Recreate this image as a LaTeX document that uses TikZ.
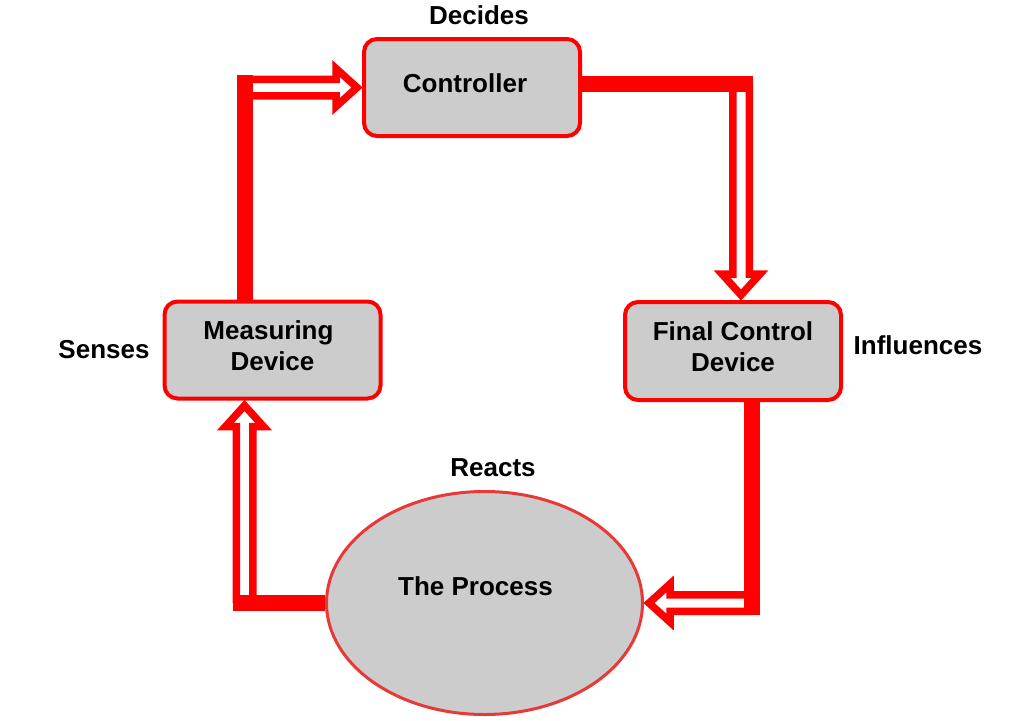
\documentclass[tikz,border=0pt]{standalone}
\usepackage{fontspec}
\setmainfont{Liberation Sans}
\usetikzlibrary{shapes.geometric,calc}
\definecolor{boxgray}{RGB}{204,204,204}
\definecolor{procred}{RGB}{232,56,56}
\definecolor{arrred}{RGB}{255,0,0}

% hollow (outlined) arrow from #1 to #2
\newcommand\harrow[2]{%
  \path (#1) coordinate (ha-s) (#2) coordinate (ha-e);
  \pgfpointdiff{\pgfpointanchor{ha-s}{center}}{\pgfpointanchor{ha-e}{center}}%
  \pgfgetlastxy\hax\hay
  \pgfmathsetmacro\haang{atan2(\hay,\hax)}%
  \pgfmathsetmacro\halen{veclen(\hax,\hay)}%
  \pgfmathsetmacro\hab{\halen-26}%
  \pgfmathsetmacro\hat{\halen-5}%
  \begin{scope}[shift={(ha-s)}, rotate=\haang, x=1pt, y=1pt]
    \fill[white] (0,8.25) -- (\hab,8.25) -- (\hab,19) -- (\hat,0) -- (\hab,-19) -- (\hab,-8.25) -- (0,-8.25) -- cycle;
    \draw[arrred, line width=7.5pt, line join=miter, miter limit=12]
      (0,8.25) -- (\hab,8.25) -- (\hab,19) -- (\hat,0) -- (\hab,-19) -- (\hab,-8.25) -- (0,-8.25);
  \end{scope}}

\begin{document}
\begin{tikzpicture}[x=1pt,y=-1pt,
  box/.style={draw=arrred, line width=4pt, fill=boxgray, rounded corners=13pt,
    minimum width=216pt, minimum height=97pt, inner sep=0pt, align=center,
    text depth=8pt, font=\bfseries\fontsize{26}{31}\selectfont},
  lbl/.style={font=\bfseries\fontsize{26}{31}\selectfont, inner sep=0pt},
  bar/.style={draw=arrred, line width=16pt}]
\useasboundingbox[fill=white] (0,0) rectangle (1024,720);

% nodes
\node[box] (ctrl) at (472,87.5) {Controller\hspace*{14pt}};
\node[box] (meas) at (272.5,350) {Measuring\hspace*{8pt}\\Device};
\node[box, minimum height=98pt] (fcd) at (733,351) {Final Control\\Device};
\node[ellipse, draw=procred, line width=3pt, fill=boxgray, minimum width=316pt,
      minimum height=223pt, inner sep=0pt] (proc) at (484.5,603) {};
\node[lbl] (proct) at ([shift={(-9,-17)}]proc.center) {The Process};

% labels
\node[lbl] (dec) at (479,15) {Decides};
\node[lbl] (sen) at (104,350) {Senses};
\node[lbl] (inf) at (918,345) {Influences};
\node[lbl] (rea) at (493,468) {Reacts};

% corner coordinates
\coordinate (k1) at (244.5,75);
\coordinate (k2) at (753,83.5);
\coordinate (k3) at (741,83.5);
\coordinate (k4) at (244.5,603);
\coordinate (k4b) at (232.5,603);
\coordinate (k5) at (751.5,615);

% Measuring Device -> Controller
\harrow{k1 |- ctrl.west}{ctrl.west}
\draw[bar] (meas.north -| k1) -- (k1);

% Controller -> Final Control Device
\harrow{k3}{k3 |- fcd.north}
\draw[bar] (k2 -| ctrl.east) -- (k2);

% The Process -> Measuring Device
\harrow{k4}{k4 |- meas.south}
\draw[bar] (proc.west) -- (k4b);

% Final Control Device -> The Process
\harrow{k5 |- proc.east}{proc.east}
\draw[bar] (fcd.south -| k5) -- (k5);
\end{tikzpicture}
\end{document}
